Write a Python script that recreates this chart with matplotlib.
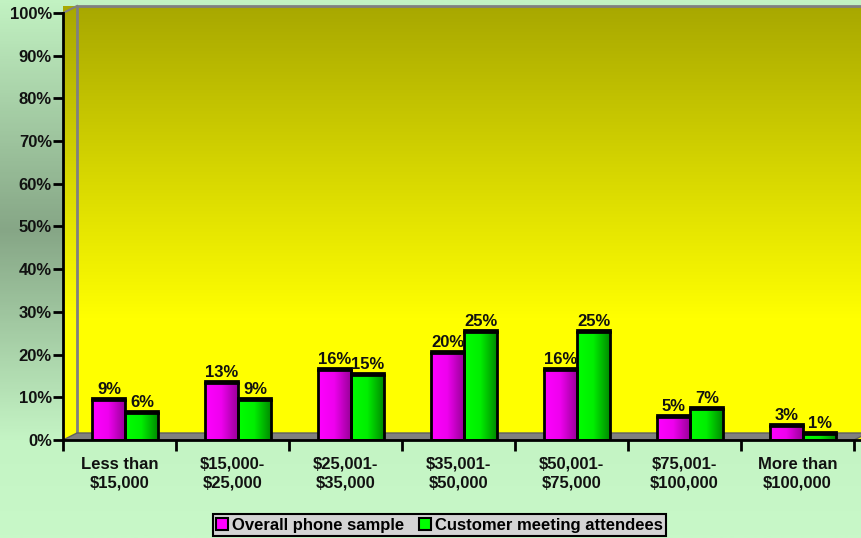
import numpy as np
import matplotlib
matplotlib.use("Agg")
import matplotlib.pyplot as plt
from matplotlib.colors import LinearSegmentedColormap
from matplotlib.patches import Polygon, Patch

# data
categories = ['Less than\n$15,000', '$15,000-\n$25,000', '$25,001-\n$35,000',
              '$35,001-\n$50,000', '$50,001-\n$75,000', '$75,001-\n$100,000',
              'More than\n$100,000']
phone_sample = [9, 13, 16, 20, 16, 5, 3]
attendees = [6, 9, 15, 25, 25, 7, 1]
series_names = ['Overall phone sample', 'Customer meeting attendees']
y_ticks = list(range(0, 101, 10))

plt.rcParams['font.family'] = ['Liberation Sans', 'DejaVu Sans']
plt.rcParams['font.weight'] = 'bold'

W, H = 862, 538
fig = plt.figure(figsize=(W / 100, H / 100), dpi=100)

# figure background gradient
bg = fig.add_axes([0, 0, 1, 1], zorder=-10)
bg_cmap = LinearSegmentedColormap.from_list(
    'bg', [(0, '#c2f2c2'), (230 / H, '#86a686'), (440 / H, '#c4f4c4'), (1, '#c8f8c8')])
bg.imshow(np.linspace(0, 1, 300).reshape(-1, 1), cmap=bg_cmap, aspect='auto',
          extent=[0, 1, 0, 1], origin='upper')
bg.set_xlim(0, 1)
bg.set_ylim(0, 1)
bg.axis('off')

# main axes (pixel layout of the reference)
px_cat = 113.0
ax = fig.add_axes([63 / W, 98 / H, 799 / W, 427 / H])
ax.set_facecolor('none')
xmin, xmax = -0.5, -0.5 + 799 / px_cat
dx = 14 / px_cat           # depth of the 3d wall
dy = 7 / 4.27              # in percent units
cap = 0.8                  # 3d top of the bars sits a bit above the value

# wall (side + back) with olive-to-yellow gradient
wall_cmap = LinearSegmentedColormap.from_list(
    'wall', [(0, '#a8a800'), (0.72, '#ffff00'), (1, '#ffff00')])
wall_poly = Polygon([(xmin, 0), (xmin, 100), (xmin + dx, 100 + dy), (xmax, 100 + dy), (xmax, 0)],
                    closed=True, transform=ax.transData, facecolor='none', edgecolor='none')
ax.add_patch(wall_poly)
wall_img = ax.imshow(np.linspace(0, 1, 300).reshape(-1, 1), cmap=wall_cmap, aspect='auto',
                     extent=[xmin, xmax, 0, 100 + dy], origin='upper', zorder=0, clip_on=False)
wall_img.set_clip_path(wall_poly)

# wall edges
ax.plot([xmin + dx, xmin + dx, xmax], [dy, 100 + dy, 100 + dy], color='#808080', lw=2,
        clip_on=False, zorder=1)
ax.plot([xmin, xmin + dx], [100, 100 + dy], color='#808080', lw=1.5, clip_on=False, zorder=1)

# floor
floor = Polygon([(xmin, 0), (xmin + dx, dy), (6.5 + dx, dy), (6.5, 0)], closed=True,
                facecolor='#808080', edgecolor='#606060', lw=1, zorder=1, clip_on=False)
ax.add_patch(floor)

# bars with horizontal gradients
mag_cmap = LinearSegmentedColormap.from_list('mag', ['#ff00ff', '#ee00ee', '#9a009a'])
grn_cmap = LinearSegmentedColormap.from_list('grn', ['#00ff00', '#00ee00', '#008c00'])
bar_w = 33 / px_cat
shift = 6 / px_cat
x = np.arange(len(categories))

for vals, off, cmap in [(phone_sample, -bar_w / 2, mag_cmap), (attendees, bar_w / 2, grn_cmap)]:
    for xi, v in zip(x, vals):
        cx = xi + shift + off
        top = v + cap
        rect = ax.bar(cx, top, width=bar_w, facecolor='none', edgecolor='black', lw=2,
                      zorder=4)[0]
        im = ax.imshow(np.linspace(0, 1, 64).reshape(1, -1), cmap=cmap, aspect='auto',
                       extent=[cx - bar_w / 2, cx + bar_w / 2, 0, top], zorder=3)
        im.set_clip_path(rect)
        ax.plot([cx - bar_w / 2, cx + bar_w / 2], [top - 0.5, top - 0.5], color='black', lw=2,
                zorder=5)
        ax.text(cx, top + 0.2, f'{v}%', ha='center', va='bottom', fontsize=12,
                fontweight='bold', color='#111111', zorder=6)

ax.set_xlim(xmin, xmax)
ax.set_ylim(0, 100)

# axes styling
for s in ['top', 'right']:
    ax.spines[s].set_visible(False)
for s in ['left', 'bottom']:
    ax.spines[s].set_linewidth(2)
    ax.spines[s].set_color('black')
    ax.spines[s].set_zorder(7)

ax.set_yticks(y_ticks)
ax.set_yticklabels([f'{t}%' for t in y_ticks], fontsize=12, fontweight='bold', color='#111111')
ax.tick_params(axis='y', length=7, width=2, pad=1)

ax.set_xticks(np.arange(-0.5, 7, 1))
ax.set_xticklabels([])
ax.tick_params(axis='x', which='major', length=8, width=2)
ax.set_xticks(x, minor=True)
ax.set_xticklabels(categories, minor=True, fontsize=12, fontweight='bold', color='#111111',
                   linespacing=1.3)
ax.tick_params(axis='x', which='minor', length=0, pad=12)

# legend
handles = [Patch(facecolor='#ff00ff', edgecolor='black', lw=1.5),
           Patch(facecolor='#00ff00', edgecolor='black', lw=1.5)]
leg = fig.legend(handles, series_names, loc='lower center', bbox_to_anchor=(439.5 / W, 2 / H),
                 ncol=2, fancybox=False, edgecolor='black', facecolor='#d4d4d4', framealpha=1,
                 fontsize=12, handlelength=0.7, handleheight=0.7, handletextpad=0.25,
                 columnspacing=0.9, borderpad=0.2, borderaxespad=0)
leg.get_frame().set_linewidth(1.5)

fig.savefig('out.png', dpi=100)
